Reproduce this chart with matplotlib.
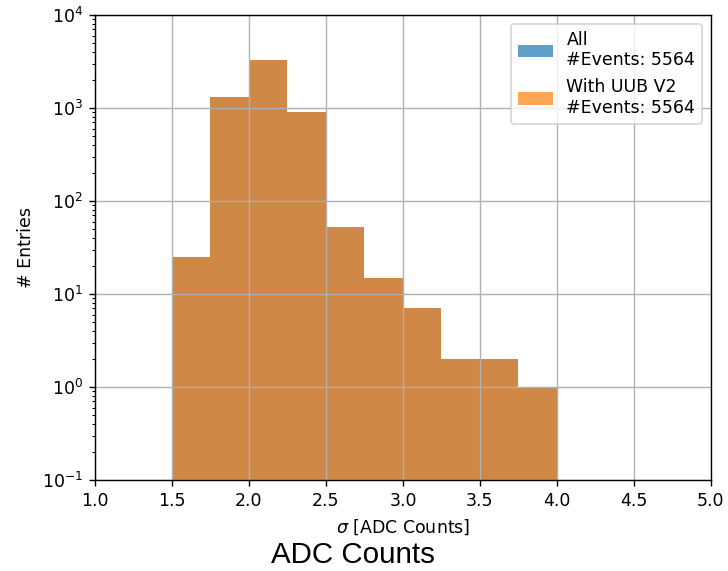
import matplotlib
matplotlib.use("Agg")
import matplotlib.pyplot as plt
import numpy as np

# bin edges of sigma [ADC counts] and entries per bin
bin_edges = [1.5, 1.75, 2.0, 2.25, 2.5, 2.75, 3.0, 3.25, 3.5, 3.75, 4.0]
counts_all = [25, 1310, 3250, 900, 52, 15, 7, 2, 2, 1]
counts_uub = [25, 1310, 3250, 900, 52, 15, 7, 2, 2, 1]
n_events_all = 5564
n_events_uub = 5564

x_ticks = [1.0, 1.5, 2.0, 2.5, 3.0, 3.5, 4.0, 4.5, 5.0]

DPI = 125
fig = plt.figure(figsize=(728 / DPI, 571 / DPI), dpi=DPI)
ax = fig.add_axes([0.1305, 0.1594, 0.846, 0.8143])

edges = np.array(bin_edges)
centers = 0.5 * (edges[:-1] + edges[1:])

ax.hist(centers, bins=edges, weights=counts_all, alpha=0.7,
        label=f"All\n#Events: {n_events_all}")
ax.hist(centers, bins=edges, weights=counts_uub, alpha=0.7,
        label=f"With UUB V2\n#Events: {n_events_uub}")

ax.set_yscale("log")
ax.set_ylim(0.1, 1e4)
ax.set_xlim(1.0, 5.0)
ax.set_xticks(x_ticks)
ax.grid(True)
ax.set_xlabel(r"$\sigma$ [ADC Counts]")
ax.set_ylabel("# Entries")
ax.legend(loc="upper right")

fig.text(0.485, 0.028, "ADC Counts", fontsize=17, family="Liberation Sans",
         ha="center", va="center")

fig.savefig("out.png", dpi=DPI)
